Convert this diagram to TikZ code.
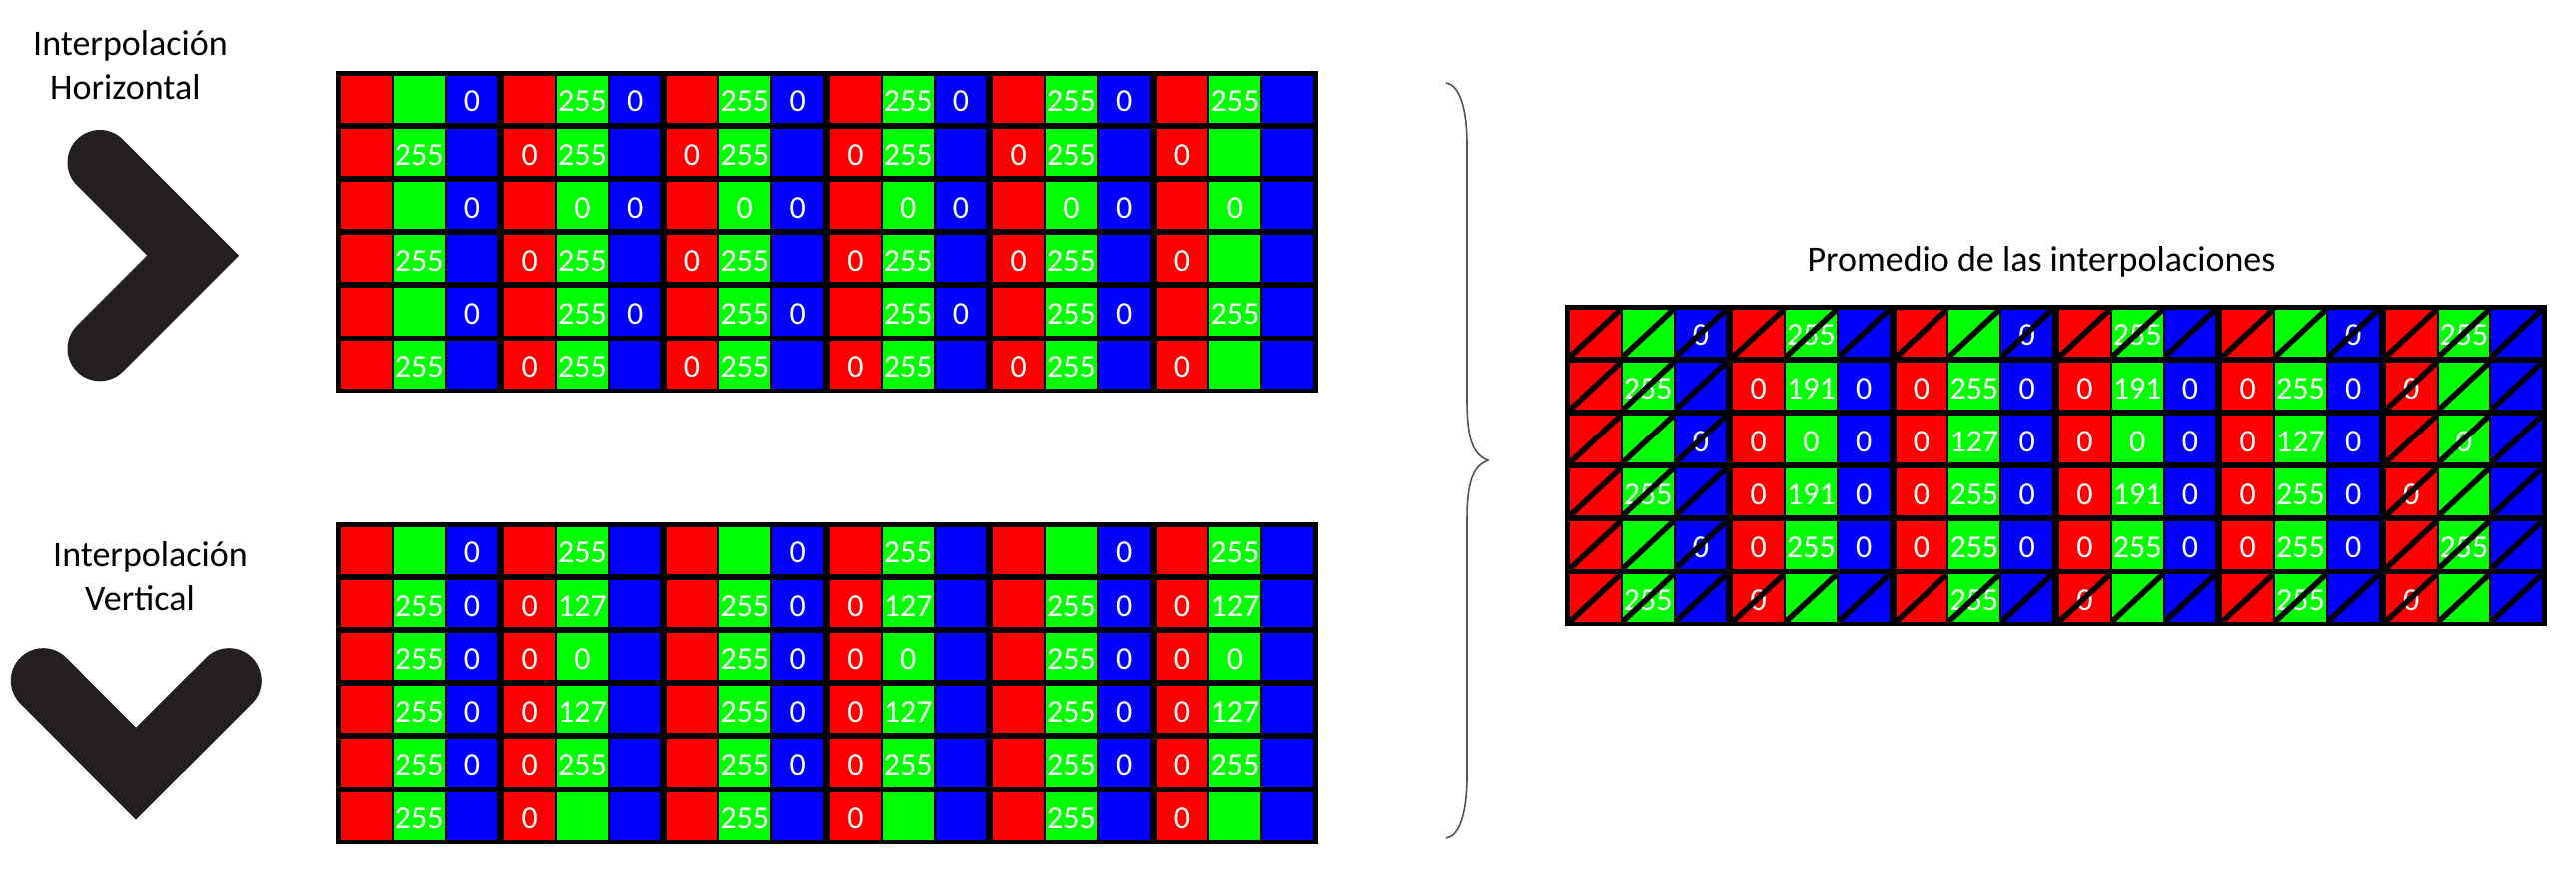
\documentclass[tikz,border=0pt]{standalone}
\usepackage{fontspec}
\setmainfont{Carlito}
\definecolor{pr}{RGB}{255,0,0}
\definecolor{pg}{RGB}{0,255,0}
\definecolor{pb}{RGB}{0,0,255}
\definecolor{chev}{RGB}{35,31,32}
\definecolor{bracecol}{RGB}{85,85,85}

% cell geometry (pixels)
\newcommand{\cellpos}[3]{% #1 x0, #2 y0, uses \r \c
  \pgfmathtruncatemacro{\gk}{div(\c,3)}%
  \pgfmathtruncatemacro{\gi}{mod(\c,3)}%
  \pgfmathsetmacro{\cx}{#1+5+\gk*163.34+\gi*52.78}%
  \pgfmathsetmacro{\cy}{#2+4.7+\r*53.1}%
}

\newcommand{\gridcells}[2]{%
  \fill[black] (#1,#2) rectangle ++(983,322);
  \foreach \r in {0,...,5}{
    \foreach \c in {0,...,17}{
      \cellpos{#1}{#2}{}
      \ifcase\gi\def\gcol{pr}\or\def\gcol{pg}\else\def\gcol{pb}\fi
      \fill[\gcol] (\cx,\cy) rectangle ++(50.78,47.4);
    }
  }
}

\newcommand{\gridvals}[4]{%
  \foreach \rowlist [count=\r from 0] in {#4}{
    \foreach \v [count=\c from 0] in \rowlist {
      \cellpos{#1}{#2}{}
      \node[val] (#3-\r-\c) at (\cx+25.39,\cy+26) {\v};
    }
  }
}

\tikzset{
  val/.style={text=white, inner sep=0pt, font=\fontsize{32}{38}\selectfont},
  lbl/.style={text=black, inner sep=0pt, font=\fontsize{36}{43}\selectfont},
  chevron/.style={draw=chev, line width=65pt, line cap=round, line join=miter},
  bracestyle/.style={draw=bracecol, line width=1.6pt},
  diagline/.style={draw=black, line width=5.5pt}
}

\begin{document}
\begin{tikzpicture}[x=1pt,y=-1pt]
\fill[white] (0,0) rectangle (2578,870);
\useasboundingbox (0,0) rectangle (2578,870);

% labels
\node[lbl, anchor=base west] (lh1) at (33,55) {Interpolación};
\node[lbl, anchor=base west] (lh2) at (50,99) {Horizontal};
\node[lbl, anchor=base west] (lv1) at (53,567.7) {Interpolación};
\node[lbl, anchor=base west] (lv2) at (85,611.7) {Vertical};
\node[lbl, anchor=base] (lp) at (2043,271) {Promedio de las interpolaciones};

% chevrons
\draw[chevron] (100,162.5) -- (193.2,255.7) -- (100,348.8);
\draw[chevron] (43.3,681.7) -- (136,774.7) -- (229.3,681.7);

% grids
\gridcells{336}{71}
\gridcells{336}{523}
\gridcells{1566}{305}

\gridvals{336}{71}{h}{%
{,,0,,255,0,,255,0,,255,0,,255,0,,255,},%
{,255,,0,255,,0,255,,0,255,,0,255,,0,,},%
{,,0,,0,0,,0,0,,0,0,,0,0,,0,},%
{,255,,0,255,,0,255,,0,255,,0,255,,0,,},%
{,,0,,255,0,,255,0,,255,0,,255,0,,255,},%
{,255,,0,255,,0,255,,0,255,,0,255,,0,,}}

\gridvals{336}{523}{v}{%
{,,0,,255,,,,0,,255,,,,0,,255,},%
{,255,0,0,127,,,255,0,0,127,,,255,0,0,127,},%
{,255,0,0,0,,,255,0,0,0,,,255,0,0,0,},%
{,255,0,0,127,,,255,0,0,127,,,255,0,0,127,},%
{,255,0,0,255,,,255,0,0,255,,,255,0,0,255,},%
{,255,,0,,,,255,,0,,,,255,,0,,}}

\gridvals{1566}{305}{p}{%
{,,0,,255,,,,0,,255,,,,0,,255,},%
{,255,,0,191,0,0,255,0,0,191,0,0,255,0,0,,},%
{,,0,0,0,0,0,127,0,0,0,0,0,127,0,,0,},%
{,255,,0,191,0,0,255,0,0,191,0,0,255,0,0,,},%
{,,0,0,255,0,0,255,0,0,255,0,0,255,0,,255,},%
{,255,,0,,,,255,,0,,,,255,,0,,}}

% diagonals in averaged grid
\foreach \r in {0,...,5}{
  \foreach \c in {0,...,17}{
    \cellpos{1566}{305}{}
    \pgfmathtruncatemacro{\dodiag}{(\r==0)||(\r==5)||(\gk==0)||(\gk==5)}
    \ifnum\dodiag=1
      \draw[diagline] (\cx,\cy+47.4) -- (\cx+50.78,\cy);
    \fi
  }
}

% brace
\draw[bracestyle] (1447,83) .. controls (1461,85) and (1468,110) .. (1468,145)
  -- (1468,400) .. controls (1468,440) and (1474,455) .. (1489,461)
  .. controls (1474,467) and (1468,482) .. (1468,522)
  -- (1468,777) .. controls (1468,812) and (1461,837) .. (1447,839);
\end{tikzpicture}
\end{document}
